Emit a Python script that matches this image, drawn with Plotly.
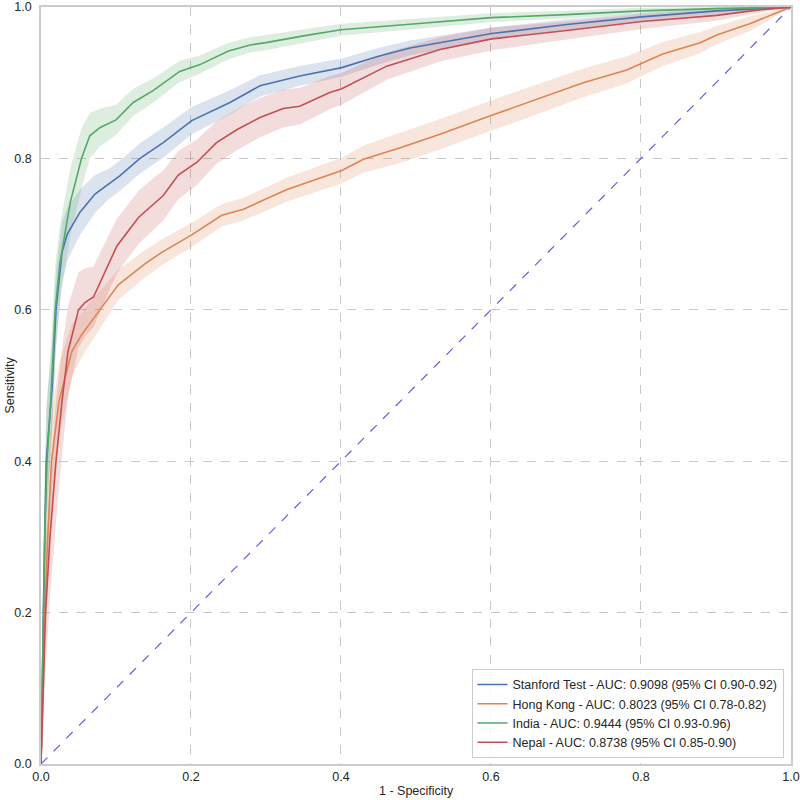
import plotly.graph_objects as go

# ---------------- data ----------------
stanford_fpr = [0, 0.002, 0.004, 0.007, 0.015, 0.02, 0.028, 0.035, 0.052, 0.072, 0.09, 0.105, 0.132, 0.163, 0.201, 0.252, 0.292, 0.345, 0.401, 0.45, 0.492, 0.55, 0.601, 0.701, 0.801, 0.901, 1.0]
stanford_tpr = [0, 0.15, 0.25, 0.40, 0.50, 0.60, 0.676, 0.70, 0.729, 0.753, 0.766, 0.777, 0.80, 0.821, 0.85, 0.874, 0.896, 0.909, 0.92, 0.935, 0.946, 0.956, 0.965, 0.977, 0.987, 0.995, 1.0]
stanford_ci = [0, 0.06, 0.07, 0.07, 0.06, 0.05, 0.04, 0.035, 0.03, 0.025, 0.02, 0.02, 0.02, 0.02, 0.018, 0.016, 0.014, 0.013, 0.012, 0.011, 0.01, 0.009, 0.008, 0.007, 0.005, 0.004, 0]

hk_fpr = [0, 0.002, 0.005, 0.009, 0.014, 0.024, 0.041, 0.054, 0.079, 0.103, 0.139, 0.161, 0.201, 0.241, 0.27, 0.328, 0.401, 0.43, 0.479, 0.532, 0.601, 0.661, 0.723, 0.781, 0.801, 0.829, 0.879, 0.901, 0.945, 1.0]
hk_tpr = [0, 0.08, 0.20, 0.30, 0.40, 0.479, 0.545, 0.567, 0.60, 0.633, 0.661, 0.676, 0.699, 0.725, 0.733, 0.759, 0.784, 0.799, 0.814, 0.832, 0.857, 0.878, 0.90, 0.917, 0.926, 0.938, 0.953, 0.963, 0.978, 1.0]
hk_ci = [0, 0.05, 0.07, 0.07, 0.06, 0.05, 0.035, 0.03, 0.025, 0.02, 0.018, 0.017, 0.016, 0.015, 0.015, 0.016, 0.017, 0.018, 0.02, 0.02, 0.02, 0.02, 0.019, 0.018, 0.017, 0.016, 0.014, 0.012, 0.01, 0]

india_fpr = [0, 0.002, 0.003, 0.005, 0.008, 0.013, 0.019, 0.025, 0.039, 0.054, 0.065, 0.079, 0.1, 0.123, 0.15, 0.185, 0.212, 0.25, 0.279, 0.3, 0.35, 0.4, 0.5, 0.6, 0.7, 0.8, 0.9, 1.0]
india_tpr = [0, 0.15, 0.20, 0.30, 0.40, 0.48, 0.60, 0.66, 0.742, 0.80, 0.83, 0.841, 0.851, 0.874, 0.89, 0.915, 0.924, 0.942, 0.95, 0.953, 0.962, 0.97, 0.978, 0.986, 0.99, 0.995, 0.998, 1.0]
india_ci = [0, 0.07, 0.08, 0.08, 0.08, 0.07, 0.06, 0.05, 0.045, 0.04, 0.03, 0.025, 0.02, 0.018, 0.016, 0.014, 0.012, 0.011, 0.01, 0.01, 0.009, 0.008, 0.007, 0.006, 0.005, 0.004, 0.003, 0]

nepal_fpr = [0, 0.002, 0.006, 0.012, 0.02, 0.028, 0.036, 0.05, 0.059, 0.07, 0.085, 0.101, 0.13, 0.152, 0.163, 0.183, 0.208, 0.234, 0.261, 0.292, 0.323, 0.345, 0.385, 0.401, 0.461, 0.532, 0.601, 0.701, 0.801, 0.901, 0.955, 1.0]
nepal_tpr = [0, 0.08, 0.20, 0.30, 0.40, 0.479, 0.545, 0.60, 0.61, 0.617, 0.65, 0.684, 0.722, 0.742, 0.751, 0.778, 0.795, 0.821, 0.838, 0.854, 0.866, 0.869, 0.887, 0.892, 0.922, 0.944, 0.958, 0.969, 0.981, 0.989, 0.996, 1.0]
nepal_ci = [0, 0.06, 0.08, 0.08, 0.08, 0.07, 0.06, 0.05, 0.045, 0.04, 0.038, 0.036, 0.035, 0.034, 0.033, 0.032, 0.03, 0.028, 0.027, 0.026, 0.025, 0.024, 0.022, 0.021, 0.018, 0.016, 0.015, 0.012, 0.01, 0.007, 0.004, 0]

series = [
    ("Stanford Test - AUC: 0.9098 (95% CI 0.90-0.92)", stanford_fpr, stanford_tpr, stanford_ci, "#4C72B0", "rgba(76,114,176,0.2)"),
    ("Hong Kong - AUC: 0.8023 (95% CI 0.78-0.82)", hk_fpr, hk_tpr, hk_ci, "#DD8452", "rgba(221,132,82,0.2)"),
    ("India - AUC: 0.9444 (95% CI 0.93-0.96)", india_fpr, india_tpr, india_ci, "#55A868", "rgba(85,168,104,0.2)"),
    ("Nepal - AUC: 0.8738 (95% CI 0.85-0.90)", nepal_fpr, nepal_tpr, nepal_ci, "#C44E52", "rgba(196,78,82,0.2)"),
]

diag = [0, 1]
x_title = "1 - Specificity"
y_title = "Sensitivity"

fig = go.Figure()

# confidence bands
for name, x, y, ci, col, fillcol in series:
    lo = [max(0.0, v - c) for v, c in zip(y, ci)]
    hi = [min(1.0, v + c) for v, c in zip(y, ci)]
    fig.add_trace(go.Scatter(x=x, y=lo, mode="lines", line=dict(width=0, color=col),
                             showlegend=False, hoverinfo="skip"))
    fig.add_trace(go.Scatter(x=x, y=hi, mode="lines", line=dict(width=0, color=col),
                             fill="tonexty", fillcolor=fillcol, showlegend=False, hoverinfo="skip"))

fig.add_trace(go.Scatter(x=diag, y=diag, mode="lines",
                         line=dict(color="rgb(98,98,208)", width=1.2, dash="dash"),
                         showlegend=False))

for name, x, y, ci, col, fillcol in series:
    fig.add_trace(go.Scatter(x=x, y=y, mode="lines", name=name,
                             line=dict(color=col, width=1.6)))

axis_common = dict(
    range=[0, 1.0001], tickmode="linear", tick0=0, dtick=0.2, tickformat=".1f",
    showgrid=True, gridcolor="#c8c8c8", griddash="dash", gridwidth=1,
    showline=True, linecolor="#cccccc", linewidth=1.5, mirror=True,
    zeroline=False, ticks="", tickfont=dict(size=12.5, color="#262626"),
    automargin=False, ticklabeloverflow="allow",
)

fig.update_layout(
    width=800, height=800,
    margin=dict(l=41, r=9, t=7, b=36),
    paper_bgcolor="white", plot_bgcolor="white",
    font=dict(family="Liberation Sans, Arial, sans-serif", size=12.5, color="#262626"),
    xaxis=dict(**axis_common),
    yaxis=dict(ticklabelstandoff=5, **axis_common),
    legend=dict(x=0.99, y=0.008, xanchor="right", yanchor="bottom", traceorder="normal",
                bgcolor="rgba(255,255,255,0.85)", bordercolor="#cccccc", borderwidth=1,
                font=dict(size=12.5, color="#262626"), tracegroupgap=0, itemwidth=30),
    showlegend=True,
    annotations=[
        dict(text=x_title, xref="paper", yref="paper", x=0.5, y=0, yshift=-27,
             xanchor="center", yanchor="middle", showarrow=False, font=dict(size=12.5)),
        dict(text=y_title, xref="paper", yref="paper", x=0, y=0.5, xshift=-32,
             xanchor="center", yanchor="middle", textangle=-90, showarrow=False,
             font=dict(size=12.5)),
    ],
)

fig.write_html(
    "out.html",
    config={"displayModeBar": False},
    post_script="document.body.style.margin='0';document.body.style.padding='0';document.body.style.overflow='hidden';",
)
